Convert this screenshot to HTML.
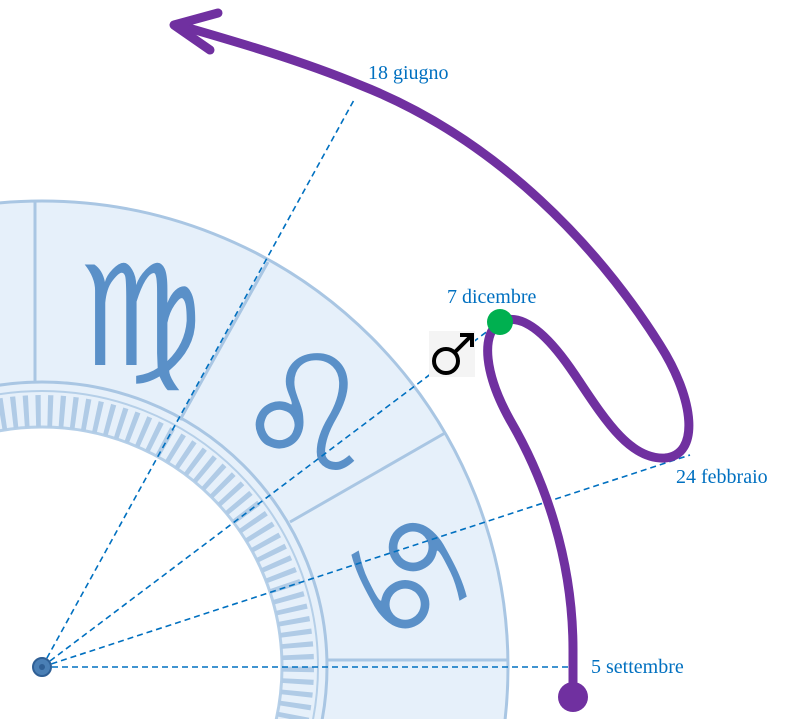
<!DOCTYPE html>
<html><head><meta charset="utf-8"><style>
html,body{margin:0;padding:0;background:#fff;width:794px;height:719px;overflow:hidden;}
svg{display:block;overflow:hidden}
</style></head><body>
<svg width="794" height="719" viewBox="0 0 794 719" xmlns="http://www.w3.org/2000/svg">
<g>
  <circle cx="42" cy="667" r="354" fill="none" stroke="#e6f0fa" stroke-width="226"/>
  <circle cx="42" cy="667" r="466" fill="none" stroke="#a9c6e3" stroke-width="3"/>
  <circle cx="42" cy="667" r="285" fill="none" stroke="#a9c6e3" stroke-width="3"/>
  <circle cx="42" cy="667" r="276" fill="none" stroke="#b5cfe8" stroke-width="2"/>
  <circle cx="42" cy="667" r="240" fill="none" stroke="#b5cfe8" stroke-width="3"/>
  <circle cx="42" cy="667" r="256" fill="none" stroke="#b0cbe6" stroke-width="32" stroke-dasharray="5 7"/>
  <g stroke="#a9c6e3" stroke-width="3">
    <line x1="35" y1="382" x2="35" y2="200"/>
    <line x1="180" y1="420" x2="268" y2="262"/>
    <line x1="290" y1="522" x2="445" y2="433"/>
    <line x1="327" y1="660" x2="508" y2="660"/>
  </g>
  <g fill="#5a90c8" font-family="DejaVu Serif, serif" text-anchor="middle">
    <text x="140" y="365" font-size="140">♍&#xFE0E;</text>
    <text x="305" y="470" font-size="160">♌&#xFE0E;</text>
    <text transform="translate(405,578) rotate(60)" x="0" y="45" font-size="140" font-family="DejaVu Sans, sans-serif">♋&#xFE0E;</text>
  </g>
</g>
<g stroke="#0070c0" stroke-width="1.6" stroke-dasharray="6 4" fill="none">
  <line x1="42" y1="667" x2="354" y2="100"/>
  <line x1="42" y1="667" x2="497" y2="324"/>
  <line x1="42" y1="667" x2="690" y2="455"/>
  <line x1="42" y1="667" x2="575" y2="667"/>
</g>
<circle cx="42" cy="667" r="9" fill="#4a7fb5" stroke="#2f5f95" stroke-width="2"/>
<circle cx="42" cy="667" r="3" fill="#2f5f95"/>
<path d="M573,697 L573,650 C573,560 545,480 510,420 C485,375 480,335 500,322 C520,312 545,330 575,375 C605,420 630,460 665,458 C700,455 695,400 660,345 C600,250 500,140 360,85 C300,60 230,40 178,25" fill="none" stroke="#7030a0" stroke-width="9" stroke-linecap="round"/>
<path d="M218,13 L174,25 L210,50" fill="none" stroke="#7030a0" stroke-width="9" stroke-linecap="round" stroke-linejoin="round"/>
<circle cx="573" cy="697" r="15" fill="#7030a0"/>
<circle cx="500" cy="322" r="13" fill="#00b050"/>
<rect x="429" y="331" width="46" height="46" fill="#f4f4f4"/>
<g stroke="#000" stroke-width="4" fill="none">
  <circle cx="446" cy="361" r="12"/>
  <line x1="455" y1="352" x2="472" y2="335"/>
  <polyline points="460,335 472,335 472,347"/>
</g>
<g fill="#0070c0" font-family="Liberation Serif, serif" font-size="20">
  <text x="368" y="79">18 giugno</text>
  <text x="447" y="303">7 dicembre</text>
  <text x="676" y="483">24 febbraio</text>
  <text x="591" y="673">5 settembre</text>
</g>
</svg>
</body></html>
